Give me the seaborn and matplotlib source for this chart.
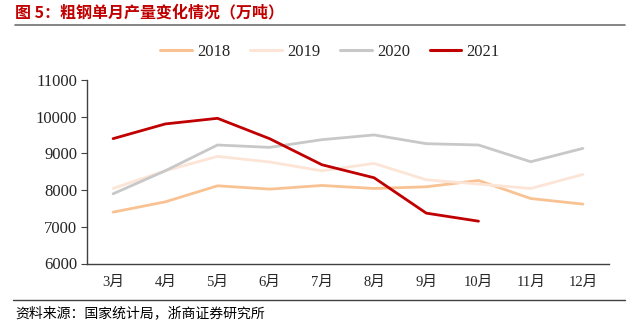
import matplotlib
matplotlib.use("Agg")
import matplotlib.pyplot as plt
import seaborn as sns
import pandas as pd
from matplotlib.lines import Line2D

months = ["3月", "4月", "5月", "6月", "7月", "8月", "9月", "10月", "11月", "12月"]
v2018 = [7400, 7680, 8117, 8027, 8126, 8044, 8090, 8262, 7771, 7618]
v2019 = [8044, 8527, 8918, 8765, 8527, 8727, 8281, 8164, 8044, 8426]
v2020 = [7899, 8527, 9229, 9164, 9374, 9503, 9265, 9229, 8773, 9137]
v2021 = [9402, 9803, 9956, 9400, 8691, 8336, 7372, 7153]
years = ["2018", "2019", "2020", "2021"]
colors = {"2018": "#F9C293", "2019": "#FCE5D6", "2020": "#C8C8C8", "2021": "#C00000"}

rows = []
for y, vals in zip(years, [v2018, v2019, v2020, v2021]):
    for m, v in zip(months, vals):
        rows.append({"month": m, "value": v, "year": y})
df = pd.DataFrame(rows)
df["month"] = pd.Categorical(df["month"], categories=months, ordered=True)
df["x"] = df["month"].cat.codes

sns.set_style("white")
plt.rcParams["font.family"] = ["Liberation Serif", "Noto Sans CJK SC", "DejaVu Sans"]

fig = plt.figure(figsize=(6.37, 3.27), dpi=100)
ax = fig.add_axes([87/637, 1-263.5/327, (609-87)/637, (263.5-80)/327])

sns.lineplot(data=df, x="x", y="value", hue="year", palette=colors,
             linewidth=2.0, ax=ax, legend=False, sort=False)

ax.set_xlim(-0.5, len(months) - 0.5)
ax.set_ylim(6000, 11000)
ax.set_yticks([6000, 7000, 8000, 9000, 10000, 11000])
ax.set_xticks(range(len(months)))
ax.set_xticklabels(months, fontsize=10.5)
ax.tick_params(axis="y", labelsize=12, length=4, width=0.8, color="#404040", direction="out", left=True, pad=3)
ax.tick_params(axis="x", length=0, pad=9)
ax.set_xlabel("")
ax.set_ylabel("")
for s in ["top", "right"]:
    ax.spines[s].set_visible(False)
for s in ["left", "bottom"]:
    ax.spines[s].set_color("#404040")
    ax.spines[s].set_linewidth(1.0)

handles = [Line2D([0], [0], color=colors[y], lw=2.2) for y in years]
fig.legend(handles, years, loc="center", bbox_to_anchor=(330/637, 1-52/327), ncol=4,
           frameon=False, fontsize=12, handlelength=1.9, handletextpad=0.3,
           columnspacing=1.2)

fig.text(15/637, 1-12/327, "图 5：粗钢单月产量变化情况（万吨）", color="#C00000",
         fontsize=11.5, fontweight="bold", va="center", ha="left",
         family=["Noto Sans CJK SC", "DejaVu Sans"])
fig.add_artist(Line2D([15/637, 625/637], [1-25/327, 1-25/327], color="#707070", lw=1.2))
fig.add_artist(Line2D([13/637, 625/637], [1-300/327, 1-300/327], color="#404040", lw=1.0))
fig.text(15/637, 1-313/327, "资料来源：国家统计局，浙商证券研究所", color="#000000",
         fontsize=10, va="center", ha="left",
         family=["Noto Sans CJK SC", "DejaVu Sans"])

fig.savefig("out.png", dpi=100)
